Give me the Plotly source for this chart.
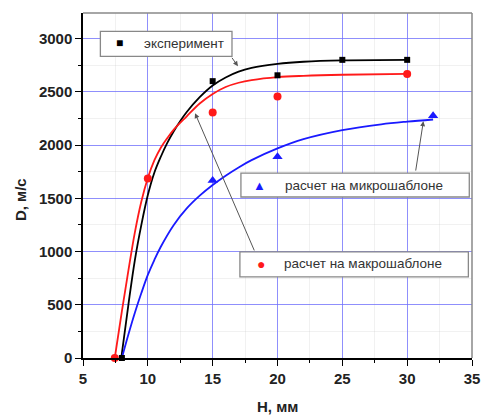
import plotly.graph_objects as go

# measured points
exp_x = [8, 15, 20, 25, 30]
exp_y = [0, 2600, 2655, 2800, 2800]
macro_x = [7.45, 10, 15, 20, 30]
macro_y = [0, 1685, 2305, 2455, 2668]
micro_x = [15, 20, 32]
micro_y = [1668, 1890, 2275]

# fitted curves
exp_fit_x = [7.95, 8.5, 9.0, 9.5, 10, 10.5, 11, 11.5, 12, 13, 14, 15, 16, 17, 18, 20, 22, 25, 30]
exp_fit_y = [0, 500, 920, 1250, 1530, 1740, 1890, 2020, 2130, 2310, 2450, 2560, 2635, 2690, 2725, 2762, 2782, 2795, 2800]
macro_fit_x = [7.45, 8, 8.5, 9, 9.5, 10, 10.5, 11, 11.5, 12, 13, 14, 15, 16, 17, 18, 20, 22, 25, 30]
macro_fit_y = [0, 440, 820, 1180, 1470, 1690, 1855, 1975, 2065, 2145, 2270, 2390, 2480, 2545, 2585, 2610, 2638, 2650, 2660, 2668]
micro_fit_x = [8, 8.5, 9, 9.5, 10, 10.5, 11, 12, 13, 14, 15, 16, 17, 18, 20, 22, 25, 28, 30, 32]
micro_fit_y = [0, 220, 425, 610, 780, 920, 1045, 1250, 1405, 1525, 1625, 1712, 1790, 1858, 1968, 2055, 2140, 2195, 2220, 2240]

x_ticks = [5, 10, 15, 20, 25, 30, 35]
y_ticks = [0, 500, 1000, 1500, 2000, 2500, 3000]

legend_labels = ["эксперимент", "расчет на микрошаблоне", "расчет на макрошаблоне"]
x_title = "H, мм"
y_title = "D, м/с"

FONT = "Liberation Sans, Arial, sans-serif"

fig = go.Figure()
line_style = dict(width=1.8, shape="spline", smoothing=1.0)
fig.add_trace(go.Scatter(x=exp_fit_x, y=exp_fit_y, mode="lines", line=dict(color="black", **line_style), cliponaxis=False))
fig.add_trace(go.Scatter(x=macro_fit_x, y=macro_fit_y, mode="lines", line=dict(color="#ff1a1a", **line_style), cliponaxis=False))
fig.add_trace(go.Scatter(x=micro_fit_x, y=micro_fit_y, mode="lines", line=dict(color="#1a1aff", **line_style), cliponaxis=False))
fig.add_trace(go.Scatter(x=exp_x, y=exp_y, mode="markers", marker=dict(symbol="square", color="black", size=6), cliponaxis=False))
fig.add_trace(go.Scatter(x=macro_x, y=macro_y, mode="markers", marker=dict(symbol="circle", color="#ff1a1a", size=8), cliponaxis=False))
fig.add_trace(go.Scatter(x=micro_x, y=micro_y, mode="markers", marker=dict(symbol="triangle-up", color="#1a1aff", size=9), cliponaxis=False))

grid_col = "rgba(110,110,255,0.75)"
axis_common = dict(
    showline=True, linecolor="black", linewidth=1.5, automargin=False,
    ticks="outside", ticklen=6, tickwidth=1.2, tickcolor="black",
    showgrid=True, gridcolor=grid_col, gridwidth=1,
    zeroline=False,
    tickfont=dict(family=FONT, size=15, color="#222", weight="bold"),
)
fig.update_xaxes(range=[5, 35], tickvals=x_ticks, ticktext=[str(v) for v in x_ticks],
                 minor=dict(dtick=2.5, ticklen=3, tickcolor="black", ticks="outside", showgrid=True, gridcolor="rgba(200,200,200,0.25)"),
                 **axis_common)
fig.update_yaxes(range=[0, 3240], tickvals=y_ticks, ticktext=[str(v) for v in y_ticks],
                 minor=dict(dtick=250, ticklen=3, tickcolor="black", ticks="outside", showgrid=True, gridcolor="rgba(200,200,200,0.25)"),
                 **axis_common)

shapes = []
# top and right frame
shapes.append(dict(type="line", xref="paper", yref="paper", x0=0, x1=1, y0=1, y1=1, line=dict(color="#888", width=1.5)))
shapes.append(dict(type="line", xref="paper", yref="paper", x0=1, x1=1, y0=0, y1=1, line=dict(color="#888", width=1.5)))
# legend boxes
boxes = [(6.34, 16.49, 2833, 3067), (17.18, 34.79, 1512, 1737), (17.10, 34.72, 762, 996)]
for x0, x1, y0, y1 in boxes:
    shapes.append(dict(type="rect", xref="x", yref="y", x0=x0, x1=x1, y0=y0, y1=y1,
                       line=dict(color="#888", width=1.3), fillcolor="white", layer="above"))

annotations = []
sym = [("■", "black", 7.8, 2955, 12), ("▲", "#1a1aff", 18.64, 1624, 13), ("●", "#ff1a1a", 18.69, 884, 14)]
txt_pos = [(9.56, 2955), (20.41, 1624), (20.33, 884)]
for (s, c, sx, sy, fs), lab, (tx, ty) in zip(sym, legend_labels, txt_pos):
    annotations.append(dict(x=sx, y=sy, xref="x", yref="y", text=s, showarrow=False,
                            font=dict(family=FONT, size=fs, color=c), xanchor="center", yanchor="middle"))
    annotations.append(dict(x=tx, y=ty, xref="x", yref="y", text=lab, showarrow=False,
                            font=dict(family=FONT, size=13.5, color="#333"), xanchor="left", yanchor="middle"))
# leader arrows (head, tail)
arrows = [((16.95, 2740), (16.41, 2833)), ((31.25, 2224), (30.64, 1746)), ((13.64, 2299), (18.26, 996))]
for (hx, hy), (tx, ty) in arrows:
    annotations.append(dict(x=hx, y=hy, ax=tx, ay=ty, xref="x", yref="y", axref="x", ayref="y",
                            text="", showarrow=True, arrowhead=2, arrowsize=1, arrowwidth=1,
                            arrowcolor="#555"))
annotations.append(dict(x=20, y=-0.14, xref="x", yref="paper", text=x_title, showarrow=False,
                        font=dict(family=FONT, size=15, color="#222", weight="bold"), yanchor="middle"))
annotations.append(dict(x=-0.16, y=0.46, xref="paper", yref="paper", text=y_title, showarrow=False, textangle=-90,
                        font=dict(family=FONT, size=15, color="#222", weight="bold"), xanchor="center", yanchor="middle"))

fig.update_layout(width=481, height=418, margin=dict(l=83, r=9, t=13, b=60),
                  paper_bgcolor="white", plot_bgcolor="white", showlegend=False,
                  shapes=shapes, annotations=annotations)
fig.write_html("out.html")
